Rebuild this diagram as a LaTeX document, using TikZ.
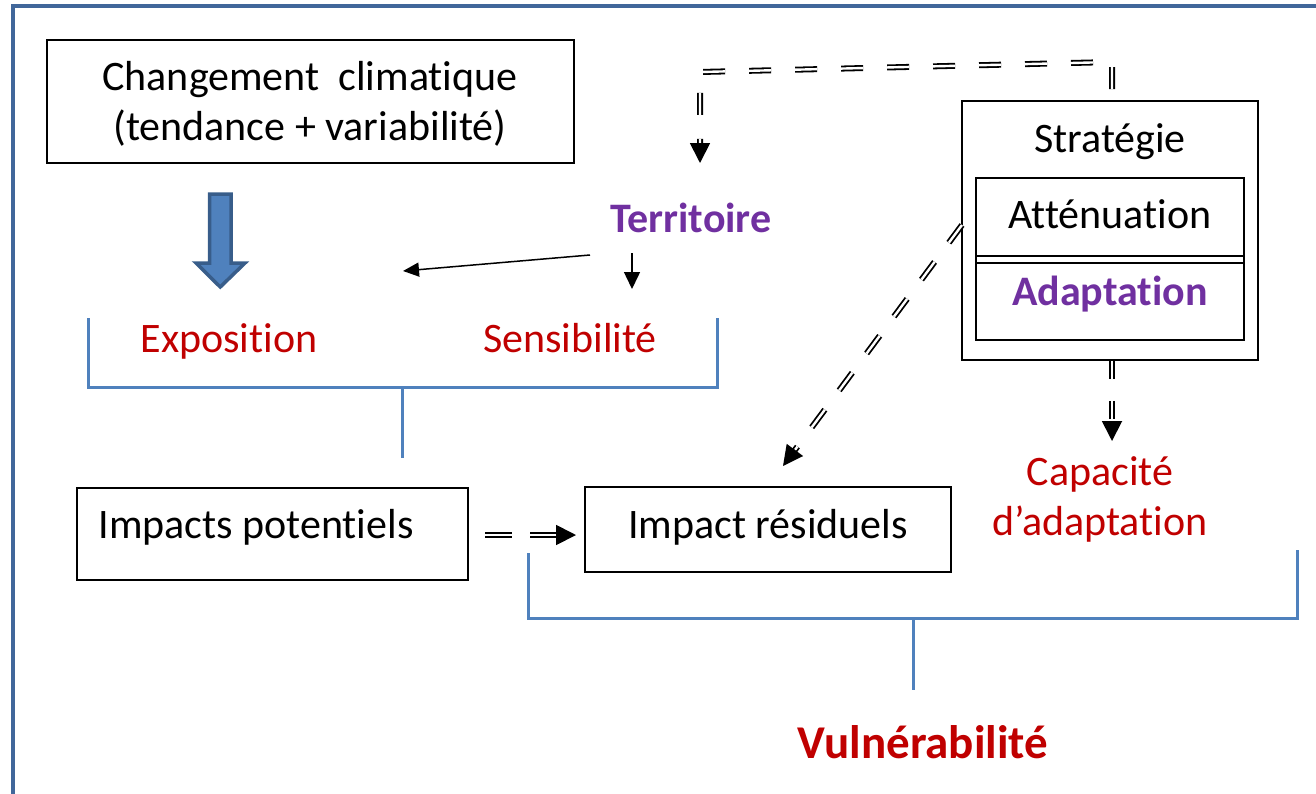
\documentclass[tikz,border=0pt]{standalone}
\usepackage{fontspec}
\setmainfont[Ligatures=NoCommon]{Carlito}
\usetikzlibrary{arrows.meta,calc}
\definecolor{frameblue}{HTML}{41679A}
\definecolor{bracketblue}{HTML}{4F81BD}
\definecolor{arrowfill}{HTML}{4F81BD}
\definecolor{arrowline}{HTML}{385D8A}
\definecolor{darkred}{HTML}{C00000}
\definecolor{purp}{HTML}{7030A0}
\begin{document}
\begin{tikzpicture}[x=1pt,y=-1pt,
  box/.style={draw=black, line width=1.5pt, inner sep=0pt},
  txt/.style={inner sep=0pt, anchor=base, font=\fontsize{42}{50}\selectfont},
  redtxt/.style={txt, text=darkred},
  brk/.style={draw=bracketblue, line width=3pt},
  thinarrow/.style={line width=1.5pt, -{Triangle[length=16pt,width=14pt]}},
  dblline/.style={line width=1.8pt, double=white, double distance=2.4pt, dash pattern=on 22pt off 24pt},
  dbltip/.style={line width=1.8pt, -{Triangle[length=20pt,width=20pt]}}
]
\useasboundingbox (0,0) rectangle (1316,793);
% frame
\draw[frameblue, line width=4pt] (13,800) -- (13,6) -- (1320,6);

% Changement climatique
\node[box, minimum width=527pt, minimum height=123pt] (cc) at (310.5,101.5) {};
\node[txt] (cc1) at (310,90) {Changement\ \ climatique};
\node[txt] (cc2) at (310,140) {(tendance + variabilité)};

% big blue arrow
\draw[fill=arrowfill, draw=arrowline, line width=3.5pt, line join=miter]
  (209.5,194) -- (231,194) -- (231,263) -- (245,263) -- (220.25,287) -- (196,263) -- (209.5,263) -- cycle;

% Territoire
\node[txt, text=purp, font=\fontsize{42}{50}\selectfont\bfseries] (terr) at (691,232) {Territoire};
\coordinate (t1) at (590,255);
\coordinate (t2) at (403,271);
\draw[thinarrow] (t1) -- (t2);
\coordinate (s1) at (632,253);
\coordinate (s2) at (632,289);
\draw[thinarrow, -{Triangle[length=17pt,width=16pt]}] (s1) -- (s2);

% Exposition / Sensibilite
\node[redtxt] (expo) at (229,352) {Exposition};
\node[redtxt] (sens) at (570,352) {Sensibilité};

% bracket 1
\coordinate (b1a) at (88,318);
\coordinate (b1b) at (88,387);
\coordinate (b1c) at (717,387);
\coordinate (b1d) at (717,318);
\coordinate (b1s) at (402,387);
\coordinate (b1e) at (402,458);
\draw[brk] (b1a) -- (b1b) -- (b1c) -- (b1d);
\draw[brk] (b1s) -- (b1e);

% Impacts potentiels
\node[box, minimum width=391pt, minimum height=92pt] (ip) at (272.5,534) {};
\node[txt] (iptxt) at (256,538) {Impacts potentiels};

% Impact residuels
\node[box, minimum width=366pt, minimum height=85pt] (ir) at (768,529.5) {};
\node[txt] (irtxt) at (768,538) {Impact résiduels};

\coordinate (ia) at (485,535);
\coordinate (ib) at (576,535);
\draw[dblline, dash pattern=on 27pt off 18pt] (ia) -- ($(ib)!16pt!(ia)$);
\draw[dbltip] ($(ib)!20pt!(ia)$) -- (ib);

% Capacite d'adaptation
\node[redtxt] (cap1) at (1100,485) {Capacité};
\node[redtxt] (cap2) at (1100,535) {d’adaptation};

% bracket 2
\coordinate (b2a) at (528,553);
\coordinate (b2b) at (528,618);
\coordinate (b2c) at (1297,618);
\coordinate (b2d) at (1297,550);
\coordinate (b2s) at (913,618);
\coordinate (b2e) at (913,690);
\draw[brk] (b2a) -- (b2b) -- (b2c) -- (b2d);
\draw[brk] (b2s) -- (b2e);

% Vulnerabilite
\node[txt, text=darkred, font=\fontsize{47}{56}\selectfont\bfseries] (vul) at (923,758) {Vulnérabilité};

% Strategie
\node[box, minimum width=296pt, minimum height=259pt] (strat) at (1110,230.5) {};
\node[txt] (strtxt) at (1110,152) {Stratégie};
\node[box, minimum width=268pt, minimum height=162pt] (inner) at (1110,259) {};
\draw[line width=1.5pt] (976,256) -- (1244,256);
\draw[line width=1.5pt] (976,263) -- (1244,263);
\node[txt] (atttxt) at (1110,228) {Atténuation};
\node[txt, text=purp, font=\fontsize{42}{50}\selectfont\bfseries] (adatxt) at (1110,305) {Adaptation};

% dashed double arrows
\coordinate (top0) at (1112,89);
\coordinate (top1) at (1112,62);
\coordinate (top2) at (700,72);
\coordinate (terrin) at (700,163);
\draw[dblline] (top0) -- (top1) -- (top2) -- ($(terrin)!16pt!(top2)$);
\draw[dbltip] ($(terrin)!20pt!(top2)$) -- (terrin);

\coordinate (diag1) at (962,225);
\coordinate (diag2) at (783,466);
\draw[dblline] (diag1) -- ($(diag2)!16pt!(diag1)$);
\draw[dbltip] ($(diag2)!20pt!(diag1)$) -- (diag2);

\coordinate (capin) at (1112,441);
\draw[dblline, dash pattern=on 18pt off 22pt] (strat.south -| capin) -- ($(capin)!16pt!(strat.south -| capin)$);
\draw[dbltip] ($(capin)!20pt!(strat.south -| capin)$) -- (capin);
\end{tikzpicture}
\end{document}
